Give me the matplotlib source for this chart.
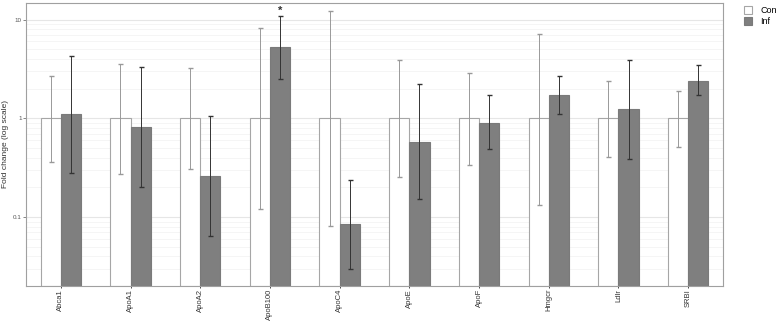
import matplotlib
matplotlib.use("Agg")
import matplotlib.pyplot as plt
import numpy as np

plt.rcParams["font.family"] = ["Liberation Sans", "DejaVu Sans"]

genes = ["Abca1", "ApoA1", "ApoA2", "ApoB100", "ApoC4", "ApoE", "ApoF", "Hmgcr", "Ldlr", "SRBI"]
con_mean = [1, 1, 1, 1, 1, 1, 1, 1, 1, 1]
con_lo = [0.365, 0.276, 0.305, 0.12, 0.081, 0.255, 0.338, 0.134, 0.41, 0.518]
con_hi = [2.66, 3.57, 3.22, 8.24, 12.1, 3.85, 2.89, 7.2, 2.38, 1.89]
inf_mean = [1.10, 0.817, 0.261, 5.25, 0.0844, 0.576, 0.904, 1.71, 1.23, 2.4]
inf_lo = [0.28, 0.201, 0.0647, 2.52, 0.0296, 0.151, 0.486, 1.10, 0.388, 1.72]
inf_hi = [4.26, 3.3, 1.05, 10.97, 0.24, 2.22, 1.71, 2.67, 3.92, 3.43]
signif = ["", "", "", "*", "", "", "", "", "", ""]

fig = plt.figure(figsize=(7.78, 3.22), dpi=100)
ax = fig.add_axes([26 / 778, 1 - 286 / 322, (723 - 26) / 778, (286 - 2.7) / 322])

x = np.arange(len(genes))
w = 0.29
ymin, ymax = 0.0201, 14.8

# grid
for dec in [0.01, 0.1, 1, 10]:
    for m in range(2, 10):
        ax.axhline(dec * m, color="#f2f2f2", lw=0.5, zorder=0)
for v in [0.1, 1, 10]:
    ax.axhline(v, color="#e6e6e6", lw=0.8, zorder=0)

ax.bar(x - w / 2, np.array(con_mean) - ymin, w, bottom=ymin, color="white",
       edgecolor="#a6a6a6", lw=0.8, zorder=2, label="Con")
ax.bar(x + w / 2, np.array(inf_mean) - ymin, w, bottom=ymin, color="#7f7f7f",
       edgecolor="#7a7a7a", lw=0.8, zorder=2, label="Inf")

con_err = [np.array(con_mean) - np.array(con_lo), np.array(con_hi) - np.array(con_mean)]
inf_err = [np.array(inf_mean) - np.array(inf_lo), np.array(inf_hi) - np.array(inf_mean)]
ax.errorbar(x - w / 2, con_mean, yerr=con_err, fmt="none", ecolor="#999999",
            elinewidth=0.7, capsize=1.8, capthick=1.0, zorder=3)
ax.errorbar(x + w / 2, inf_mean, yerr=inf_err, fmt="none", ecolor="#333333",
            elinewidth=0.7, capsize=1.8, capthick=1.0, zorder=3)

for i, s in enumerate(signif):
    if s:
        ax.text(x[i] + w / 2, inf_hi[i] * 1.0, s, ha="center", va="bottom",
                fontsize=8, fontweight="bold", color="#333333", zorder=4)

ax.set_yscale("log")
ax.set_ylim(ymin, ymax)
ax.set_xlim(-0.5, len(genes) - 0.5)
ax.set_yticks([0.1, 1, 10])
ax.set_yticklabels(["0.1", "1", "10"])
ax.yaxis.set_minor_locator(matplotlib.ticker.NullLocator())
ax.tick_params(axis="y", labelsize=4.5, length=2, width=0.5, colors="#555555", pad=1)
ax.set_xticks(x)
ax.set_xticklabels(genes, rotation=90, fontsize=5.5, color="#333333")
ax.tick_params(axis="x", length=1.5, width=0.5, pad=0.5)
fig.text(6 / 778, 1 - 144 / 322, "Fold change (log scale)", rotation=90, ha="center",
         va="center", fontsize=6, color="#333333")

for sp in ax.spines.values():
    sp.set_color("#a0a0a0")
    sp.set_linewidth(0.8)

leg = fig.legend(loc="upper left", bbox_to_anchor=(738 / 778, 1.0), frameon=False,
                 fontsize=6.5, handlelength=0.9, handleheight=0.9, labelspacing=0.2,
                 handletextpad=0.9, borderaxespad=0.3)

fig.savefig("out.png", dpi=100)
